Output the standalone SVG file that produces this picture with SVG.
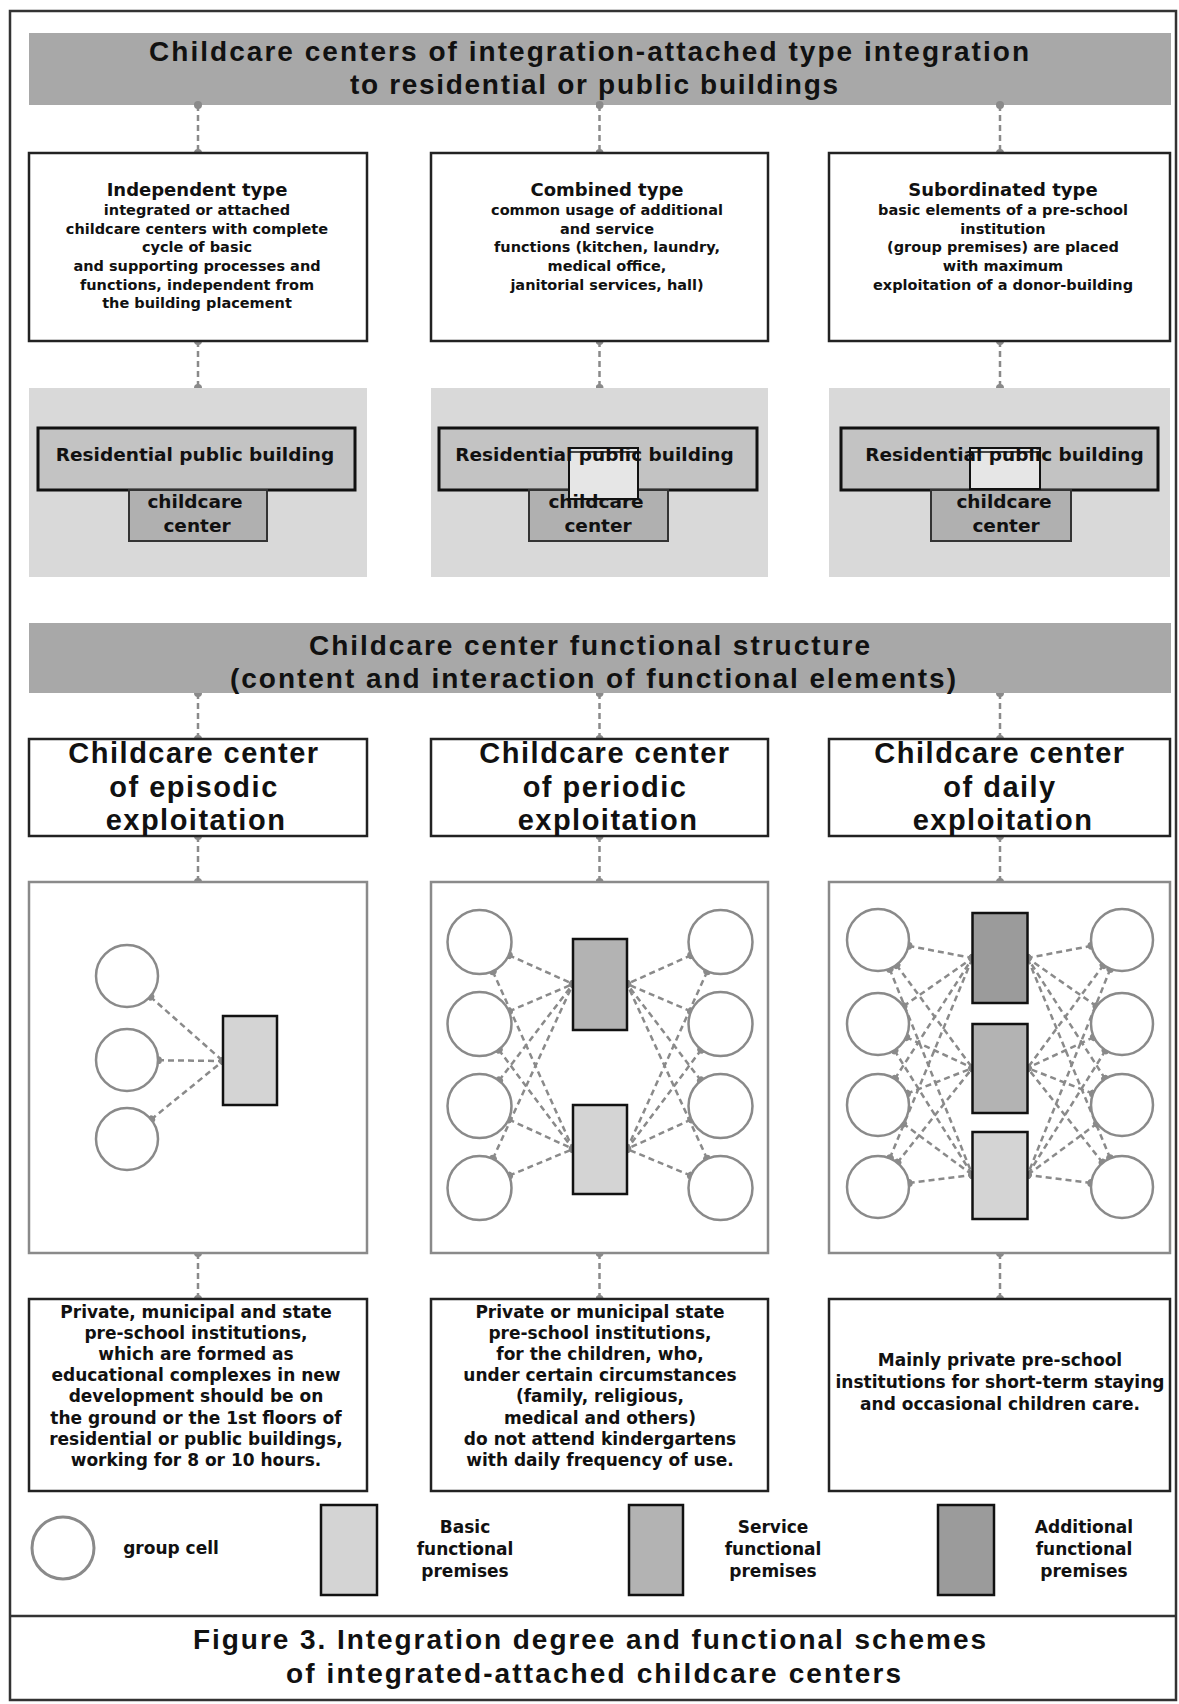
<svg xmlns="http://www.w3.org/2000/svg" width="1179" height="1704" viewBox="0 0 1179 1704">
<style>
.big{font-family:"Liberation Sans",Arial,sans-serif;font-weight:bold;font-size:28px;fill:#111;text-anchor:middle}
.hdr{font-family:"Liberation Sans",Arial,sans-serif;font-weight:bold;font-size:29px;letter-spacing:1.5px;fill:#111;text-anchor:middle}
.t1{font-family:"DejaVu Sans",sans-serif;font-weight:bold;font-size:18px;fill:#111;text-anchor:middle}
.b1{font-family:"DejaVu Sans",sans-serif;font-weight:bold;font-size:14.5px;fill:#111;text-anchor:middle}
.b5{font-family:"DejaVu Sans",sans-serif;font-weight:bold;font-size:17px;fill:#111;text-anchor:middle}
.pl{font-family:"DejaVu Sans",sans-serif;font-weight:bold;font-size:18.5px;fill:#111;text-anchor:middle}
.lg{font-family:"DejaVu Sans",sans-serif;font-weight:bold;font-size:17px;fill:#111;text-anchor:middle}
.banner{fill:#a8a8a8}
.box{fill:#fff;stroke:#222;stroke-width:2.5}
.scheme{fill:#fff;stroke:#8a8a8a;stroke-width:2.5}
.panel{fill:#d9d9d9}
.res{fill:#c3c3c3;stroke:#111;stroke-width:3}
.cc{fill:#b0b0b0;stroke:#333;stroke-width:2}
.win{fill:#e6e6e6;stroke:#111;stroke-width:2}
.cell{fill:#fff;stroke:#8a8a8a;stroke-width:2.5}
.basic{fill:#d4d4d4;stroke:#111;stroke-width:2.5}
.service{fill:#b3b3b3;stroke:#111;stroke-width:2.5}
.additional{fill:#9b9b9b;stroke:#111;stroke-width:2.5}
.dl{stroke:#8a8a8a;stroke-width:2.5;stroke-dasharray:6 4;fill:none;marker-start:url(#dot);marker-end:url(#dot)}
</style>
<defs>
<marker id="dot" viewBox="-4 -4 8 8" markerWidth="8" markerHeight="8" markerUnits="userSpaceOnUse" refX="0" refY="0" orient="auto"><circle r="4" fill="#8a8a8a"/></marker>
</defs>
<rect x="0" y="0" width="1179" height="1704" fill="#fff"/>
<rect x="10" y="11" width="1166" height="1689" fill="none" stroke="#333" stroke-width="2.5"/>
<line x1="10" y1="1616" x2="1176" y2="1616" stroke="#333" stroke-width="2.5"/>

<g id="banner1">
<rect class="banner" x="29" y="33" width="1142" height="72"/>
<text class="big" x="589" y="61" textLength="880" lengthAdjust="spacing">Childcare centers of integration-attached type integration</text>
<text class="big" x="594" y="94" textLength="488" lengthAdjust="spacing">to residential or public buildings</text>
</g>

<g id="connectors">
<line class="dl" x1="198" y1="105" x2="198" y2="153"/>
<line class="dl" x1="599.5" y1="105" x2="599.5" y2="153"/>
<line class="dl" x1="1000" y1="105" x2="1000" y2="153"/>
<line class="dl" x1="198" y1="341" x2="198" y2="388"/>
<line class="dl" x1="599.5" y1="341" x2="599.5" y2="388"/>
<line class="dl" x1="1000" y1="341" x2="1000" y2="388"/>
<line class="dl" x1="198" y1="693" x2="198" y2="739"/>
<line class="dl" x1="599.5" y1="693" x2="599.5" y2="739"/>
<line class="dl" x1="1000" y1="693" x2="1000" y2="739"/>
<line class="dl" x1="198" y1="836" x2="198" y2="882"/>
<line class="dl" x1="599.5" y1="836" x2="599.5" y2="882"/>
<line class="dl" x1="1000" y1="836" x2="1000" y2="882"/>
<line class="dl" x1="198" y1="1253" x2="198" y2="1299"/>
<line class="dl" x1="599.5" y1="1253" x2="599.5" y2="1299"/>
<line class="dl" x1="1000" y1="1253" x2="1000" y2="1299"/>
</g>

<g id="independent">
<rect class="box" x="29" y="153" width="338" height="188"/>
<text class="t1" x="197" y="196">Independent type</text>
<text class="b1" x="197" y="215">integrated or attached</text>
<text class="b1" x="197" y="233.5">childcare centers with complete</text>
<text class="b1" x="197" y="252">cycle of basic</text>
<text class="b1" x="197" y="271">and supporting processes and</text>
<text class="b1" x="197" y="289.5">functions, independent from</text>
<text class="b1" x="197" y="308">the building placement</text>
</g>
<g id="combined">
<rect class="box" x="431" y="153" width="337" height="188"/>
<text class="t1" x="607" y="196">Combined type</text>
<text class="b1" x="607" y="215">common usage of additional</text>
<text class="b1" x="607" y="233.5">and service</text>
<text class="b1" x="607" y="252">functions (kitchen, laundry,</text>
<text class="b1" x="607" y="271">medical office,</text>
<text class="b1" x="607" y="289.5">janitorial services, hall)</text>
</g>
<g id="subordinated">
<rect class="box" x="829" y="153" width="341" height="188"/>
<text class="t1" x="1003" y="196">Subordinated type</text>
<text class="b1" x="1003" y="215">basic elements of a pre-school</text>
<text class="b1" x="1003" y="233.5">institution</text>
<text class="b1" x="1003" y="252">(group premises) are placed</text>
<text class="b1" x="1003" y="271">with maximum</text>
<text class="b1" x="1003" y="289.5">exploitation of a donor-building</text>
</g>

<g id="plan-independent">
<rect class="panel" x="29" y="388" width="338" height="189"/>
<rect class="res" x="38" y="428" width="317" height="62"/>
<rect class="cc" x="129" y="490" width="138" height="51"/>
<text class="pl" x="195" y="461">Residential public building</text>
<text class="pl" x="195" y="507.5">childcare</text>
<text class="pl" x="197" y="531.5">center</text>
</g>
<g id="plan-combined">
<rect class="panel" x="431" y="388" width="337" height="189"/>
<rect class="res" x="439" y="428" width="318" height="62"/>
<rect class="cc" x="529" y="490" width="139" height="51"/>
<rect class="win" x="569" y="448" width="69" height="51"/>
<line x1="569" y1="452" x2="638" y2="452" stroke="#111" stroke-width="1.5"/>
<text class="pl" x="594.5" y="461">Residential public building</text>
<text class="pl" x="596" y="507.5">childcare</text>
<text class="pl" x="598" y="531.5">center</text>
</g>
<g id="plan-subordinated">
<rect class="panel" x="829" y="388" width="341" height="189"/>
<rect class="res" x="841" y="428" width="317" height="62"/>
<rect class="cc" x="931" y="490" width="140" height="51"/>
<rect class="win" x="970" y="448" width="70" height="41"/>
<line x1="970" y1="452" x2="1040" y2="452" stroke="#111" stroke-width="1.5"/>
<text class="pl" x="1004.5" y="461">Residential public building</text>
<text class="pl" x="1004" y="507.5">childcare</text>
<text class="pl" x="1006" y="531.5">center</text>
</g>

<g id="banner2">
<rect class="banner" x="29" y="623" width="1142" height="70"/>
<text class="big" x="589.5" y="655" textLength="561" lengthAdjust="spacing">Childcare center functional structure</text>
<text class="big" x="593" y="688" textLength="726" lengthAdjust="spacing">(content and interaction of functional elements)</text>
</g>

<g id="episodic">
<rect class="box" x="29" y="739" width="338" height="97"/>
<text class="hdr" x="194" y="763">Childcare center</text>
<text class="hdr" x="194" y="797">of episodic</text>
<text class="hdr" x="196" y="830">exploitation</text>
</g>
<g id="periodic">
<rect class="box" x="431" y="739" width="337" height="97"/>
<text class="hdr" x="605" y="763">Childcare center</text>
<text class="hdr" x="605" y="797">of periodic</text>
<text class="hdr" x="608" y="830">exploitation</text>
</g>
<g id="daily">
<rect class="box" x="829" y="739" width="341" height="97"/>
<text class="hdr" x="1000" y="763">Childcare center</text>
<text class="hdr" x="1000" y="797">of daily</text>
<text class="hdr" x="1003" y="830">exploitation</text>
</g>

<g id="scheme-episodic">
<rect class="scheme" x="29" y="882" width="338" height="371"/>
<line class="dl" x1="150.2" y1="996.6" x2="223" y2="1061"/>
<line class="dl" x1="158" y1="1060.3" x2="223" y2="1061"/>
<line class="dl" x1="151.1" y1="1119.5" x2="223" y2="1061"/>
<circle class="cell" cx="127" cy="976" r="31"/>
<circle class="cell" cx="127" cy="1060" r="31"/>
<circle class="cell" cx="127" cy="1139" r="31"/>
<rect class="basic" x="223" y="1016" width="54" height="89"/>
</g>

<g id="scheme-periodic">
<rect class="scheme" x="431" y="882" width="337" height="371"/>
<g>
<line class="dl" x1="508.7" y1="955.1" x2="573" y2="984"/>
<line class="dl" x1="492.7" y1="971.2" x2="573" y2="1149"/>
<line class="dl" x1="508.9" y1="1011.4" x2="573" y2="984"/>
<line class="dl" x1="498.7" y1="1049.6" x2="573" y2="1149"/>
<line class="dl" x1="499" y1="1080.6" x2="573" y2="984"/>
<line class="dl" x1="508.6" y1="1119.4" x2="573" y2="1149"/>
<line class="dl" x1="492.8" y1="1158.9" x2="573" y2="984"/>
<line class="dl" x1="509" y1="1175.7" x2="573" y2="1149"/>
<line class="dl" x1="691.3" y1="955.1" x2="627" y2="984"/>
<line class="dl" x1="707.3" y1="971.2" x2="627" y2="1149"/>
<line class="dl" x1="691.1" y1="1011.4" x2="627" y2="984"/>
<line class="dl" x1="701.3" y1="1049.6" x2="627" y2="1149"/>
<line class="dl" x1="701" y1="1080.6" x2="627" y2="984"/>
<line class="dl" x1="691.4" y1="1119.4" x2="627" y2="1149"/>
<line class="dl" x1="707.2" y1="1158.9" x2="627" y2="984"/>
<line class="dl" x1="691" y1="1175.7" x2="627" y2="1149"/>
</g>
<circle class="cell" cx="479.5" cy="942" r="32"/>
<circle class="cell" cx="479.5" cy="1024" r="32"/>
<circle class="cell" cx="479.5" cy="1106" r="32"/>
<circle class="cell" cx="479.5" cy="1188" r="32"/>
<circle class="cell" cx="720.5" cy="942" r="32"/>
<circle class="cell" cx="720.5" cy="1024" r="32"/>
<circle class="cell" cx="720.5" cy="1106" r="32"/>
<circle class="cell" cx="720.5" cy="1188" r="32"/>
<rect class="service" x="573" y="939" width="54" height="91"/>
<rect class="basic" x="573" y="1105" width="54" height="89"/>
</g>

<g id="scheme-daily">
<rect class="scheme" x="829" y="882" width="341" height="371"/>
<g>
<line class="dl" x1="908.4" y1="945.8" x2="972.5" y2="958"/>
<line class="dl" x1="896.4" y1="964.9" x2="972.5" y2="1068"/>
<line class="dl" x1="889.6" y1="968.8" x2="972.5" y2="1175"/>
<line class="dl" x1="903.4" y1="1006.3" x2="972.5" y2="958"/>
<line class="dl" x1="906.1" y1="1037.1" x2="972.5" y2="1068"/>
<line class="dl" x1="894.4" y1="1050.3" x2="972.5" y2="1175"/>
<line class="dl" x1="894.8" y1="1078.9" x2="972.5" y2="958"/>
<line class="dl" x1="906.9" y1="1093.7" x2="972.5" y2="1068"/>
<line class="dl" x1="902.9" y1="1123.4" x2="972.5" y2="1175"/>
<line class="dl" x1="889.8" y1="1158.3" x2="972.5" y2="958"/>
<line class="dl" x1="897.3" y1="1162.7" x2="972.5" y2="1068"/>
<line class="dl" x1="908.7" y1="1183.1" x2="972.5" y2="1175"/>
<line class="dl" x1="1091.6" y1="945.8" x2="1027.5" y2="958"/>
<line class="dl" x1="1103.6" y1="964.9" x2="1027.5" y2="1068"/>
<line class="dl" x1="1110.4" y1="968.8" x2="1027.5" y2="1175"/>
<line class="dl" x1="1096.6" y1="1006.3" x2="1027.5" y2="958"/>
<line class="dl" x1="1093.9" y1="1037.1" x2="1027.5" y2="1068"/>
<line class="dl" x1="1105.6" y1="1050.3" x2="1027.5" y2="1175"/>
<line class="dl" x1="1105.2" y1="1078.9" x2="1027.5" y2="958"/>
<line class="dl" x1="1093.1" y1="1093.7" x2="1027.5" y2="1068"/>
<line class="dl" x1="1097.1" y1="1123.4" x2="1027.5" y2="1175"/>
<line class="dl" x1="1110.2" y1="1158.3" x2="1027.5" y2="958"/>
<line class="dl" x1="1102.7" y1="1162.7" x2="1027.5" y2="1068"/>
<line class="dl" x1="1091.3" y1="1183.1" x2="1027.5" y2="1175"/>
</g>
<circle class="cell" cx="878" cy="940" r="31"/>
<circle class="cell" cx="878" cy="1024" r="31"/>
<circle class="cell" cx="878" cy="1105" r="31"/>
<circle class="cell" cx="878" cy="1187" r="31"/>
<circle class="cell" cx="1122" cy="940" r="31"/>
<circle class="cell" cx="1122" cy="1024" r="31"/>
<circle class="cell" cx="1122" cy="1105" r="31"/>
<circle class="cell" cx="1122" cy="1187" r="31"/>
<rect class="additional" x="972.5" y="913" width="55" height="90"/>
<rect class="service" x="972.5" y="1024" width="55" height="89"/>
<rect class="basic" x="972.5" y="1132" width="55" height="87"/>
</g>

<g id="desc-episodic">
<rect class="box" x="29" y="1299" width="338" height="192"/>
<text class="b5" x="196" y="1318">Private, municipal and state</text>
<text class="b5" x="196" y="1339">pre-school institutions,</text>
<text class="b5" x="196" y="1360">which are formed as</text>
<text class="b5" x="196" y="1381">educational complexes in new</text>
<text class="b5" x="196" y="1402">development should be on</text>
<text class="b5" x="196" y="1423.5">the ground or the 1st floors of</text>
<text class="b5" x="196" y="1444.5">residential or public buildings,</text>
<text class="b5" x="196" y="1465.5">working for 8 or 10 hours.</text>
</g>
<g id="desc-periodic">
<rect class="box" x="431" y="1299" width="337" height="192"/>
<text class="b5" x="600" y="1318">Private or municipal state</text>
<text class="b5" x="600" y="1339">pre-school institutions,</text>
<text class="b5" x="600" y="1360">for the children, who,</text>
<text class="b5" x="600" y="1381">under certain circumstances</text>
<text class="b5" x="600" y="1402">(family, religious,</text>
<text class="b5" x="600" y="1423.5">medical and others)</text>
<text class="b5" x="600" y="1444.5">do not attend kindergartens</text>
<text class="b5" x="600" y="1465.5">with daily frequency of use.</text>
</g>
<g id="desc-daily">
<rect class="box" x="829" y="1299" width="341" height="192"/>
<text class="b5" x="1000" y="1366">Mainly private pre-school</text>
<text class="b5" x="1000" y="1388">institutions for short-term staying</text>
<text class="b5" x="1000" y="1410">and occasional children care.</text>
</g>

<g id="legend">
<circle cx="63" cy="1548" r="31" fill="#fff" stroke="#8a8a8a" stroke-width="3"/>
<text class="lg" x="171" y="1554">group cell</text>
<rect class="basic" x="321" y="1505" width="56" height="90" stroke-width="3"/>
<text class="lg" x="465" y="1533">Basic</text>
<text class="lg" x="465" y="1555">functional</text>
<text class="lg" x="465" y="1577">premises</text>
<rect class="service" x="629" y="1505" width="54" height="90" stroke-width="3"/>
<text class="lg" x="773" y="1533">Service</text>
<text class="lg" x="773" y="1555">functional</text>
<text class="lg" x="773" y="1577">premises</text>
<rect class="additional" x="938" y="1505" width="56" height="90" stroke-width="3"/>
<text class="lg" x="1084" y="1533">Additional</text>
<text class="lg" x="1084" y="1555">functional</text>
<text class="lg" x="1084" y="1577">premises</text>
</g>

<g id="caption">
<text class="big" x="589.5" y="1649" textLength="793" lengthAdjust="spacing">Figure 3. Integration degree and functional schemes</text>
<text class="big" x="593.5" y="1683" textLength="615" lengthAdjust="spacing">of integrated-attached childcare centers</text>
</g>
</svg>
